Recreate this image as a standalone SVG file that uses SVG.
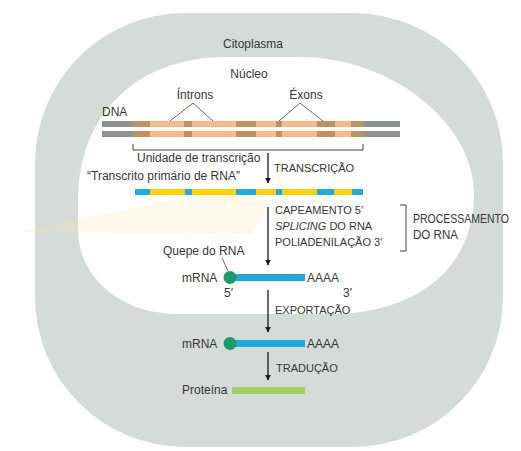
<svg xmlns="http://www.w3.org/2000/svg" width="521" height="451" viewBox="0 0 521 451">
<defs>
<style>
text{font-family:"Liberation Sans",Arial,sans-serif;fill:#363636;}
.t12{font-size:12px;}
.t11{font-size:11px;}
.conn line{stroke:#1a1a1a;stroke-width:1.3;}
.lead{stroke:#444;stroke-width:0.8;fill:none;}
.brk{stroke:#444;stroke-width:1;fill:none;}
.blue{fill:#22a9e1;}
.yel{fill:#fbd20c;}
.lt{fill:#f8ba8c;}
.dk{fill:#c2925e;}
.gr{fill:#8c9492;}
</style>
<marker id="ah" viewBox="0 0 10 10" refX="9" refY="5" markerWidth="6" markerHeight="7" markerUnits="userSpaceOnUse" orient="auto">
<path d="M0,0 L10,5 L0,10 Z" fill="#1a1a1a"/>
</marker>
</defs>
<rect width="521" height="451" fill="#ffffff"/>
<g id="citoplasma">
<rect x="35" y="13" width="468" height="434" rx="150" ry="150" fill="#d4dbd8"/>
<text class="t12" x="253" y="48" text-anchor="middle">Citoplasma</text>
</g>
<g id="nucleo">
<path d="M78,200 C78,112 140,57 225,57 L300,57 C390,57 474,122 474,195 C474,265 420,314 330,314 L178,314 C118,314 78,275 78,230 Z" fill="#ffffff"/>
<text class="t12" x="249" y="78" text-anchor="middle">Núcleo</text>
</g>
<polygon points="18,232 250,184 268,205 252,234" fill="#fbe3a6" opacity="0.22"/>
<g id="dna">
<text class="t12" x="102" y="116">DNA</text>
<rect class="gr" x="102" y="121" width="298" height="6"/>
<rect class="gr" x="102" y="131" width="298" height="6"/>
<g>
<rect class="lt" x="133" y="121" width="230" height="6"/>
<rect class="lt" x="133" y="131" width="230" height="6"/>
<rect class="dk" x="133" y="121" width="17" height="6"/><rect class="dk" x="133" y="131" width="17" height="6"/>
<rect class="dk" x="184" y="121" width="8" height="6"/><rect class="dk" x="184" y="131" width="8" height="6"/>
<rect class="dk" x="236" y="121" width="20" height="6"/><rect class="dk" x="236" y="131" width="20" height="6"/>
<rect class="dk" x="276" y="121" width="6" height="6"/><rect class="dk" x="276" y="131" width="6" height="6"/>
<rect class="dk" x="317" y="121" width="18" height="6"/><rect class="dk" x="317" y="131" width="18" height="6"/>
<rect class="dk" x="351" y="121" width="12" height="6"/><rect class="dk" x="351" y="131" width="12" height="6"/>
</g>
</g>
<g id="introns">
<text class="t12" x="195" y="99" text-anchor="middle">Íntrons</text>
<polyline class="lead" points="170,121 193,103 213,121"/>
</g>
<g id="exons">
<text class="t12" x="306" y="99" text-anchor="middle">Éxons</text>
<polyline class="lead" points="279,121 300,103 323,121"/>
</g>
<g id="unidade">
<polyline class="brk" points="133,144 133,150 363,150 363,144"/>
<text class="t12" x="137" y="162">Unidade de transcrição</text>
</g>
<g id="transcrito">
<text class="t12" x="87" y="180">“Transcrito primário de RNA”</text>
<rect class="yel" x="135" y="189" width="228" height="6"/>
<rect class="blue" x="135" y="189" width="15" height="6"/>
<rect class="blue" x="185" y="189" width="7" height="6"/>
<rect class="blue" x="236" y="189" width="20" height="6"/>
<rect class="blue" x="276" y="189" width="6" height="6"/>
<rect class="blue" x="317" y="189" width="17" height="6"/>
<rect class="blue" x="352" y="189" width="11" height="6"/>
</g>
<g id="processamento">
<polyline class="brk" points="400,205 406,205 406,251 400,251"/>
<text class="t12" x="413" y="223" textLength="96" lengthAdjust="spacingAndGlyphs">PROCESSAMENTO</text>
<text class="t12" x="413" y="239" textLength="45" lengthAdjust="spacingAndGlyphs">DO RNA</text>
</g>
<g id="mrna1">
<text class="t12" x="163" y="255">Quepe do RNA</text>
<line class="lead" x1="222" y1="258" x2="228" y2="271"/>
<text class="t12" x="182" y="282">mRNA</text>
<rect class="blue" x="230" y="274" width="75" height="7"/>
<circle cx="230" cy="277.5" r="6.5" fill="#1e9a6a"/>
<text class="t12" x="307" y="282">AAAA</text>
<text class="t12" x="224" y="297">5′</text>
<text class="t12" x="343" y="297">3′</text>
</g>
<g id="mrna2">
<text class="t12" x="182" y="348">mRNA</text>
<rect class="blue" x="230" y="340" width="75" height="7"/>
<circle cx="230" cy="343.5" r="6.5" fill="#1e9a6a"/>
<text class="t12" x="307" y="348">AAAA</text>
</g>
<g id="proteina">
<text class="t12" x="182" y="394">Proteína</text>
<rect x="232" y="387" width="73" height="7" fill="#a4cf63"/>
</g>
<g id="connectors" class="conn">
<line x1="268" y1="153" x2="268" y2="183" marker-end="url(#ah)"/>
<line x1="268" y1="207" x2="268" y2="265" marker-end="url(#ah)"/>
<line x1="268" y1="290" x2="268" y2="332" marker-end="url(#ah)"/>
<line x1="268" y1="352" x2="268" y2="380" marker-end="url(#ah)"/>
</g>
<g id="labels">
<text class="t11" x="274" y="172">TRANSCRIÇÃO</text>
<text class="t11" x="275" y="214">CAPEAMENTO 5′</text>
<text class="t11" x="275" y="230"><tspan font-style="italic">SPLICING</tspan> DO RNA</text>
<text class="t11" x="275" y="246">POLIADENILAÇÃO 3′</text>
<text class="t11" x="275" y="314">EXPORTAÇÃO</text>
<text class="t11" x="276" y="372">TRADUÇÃO</text>
</g>
</svg>
